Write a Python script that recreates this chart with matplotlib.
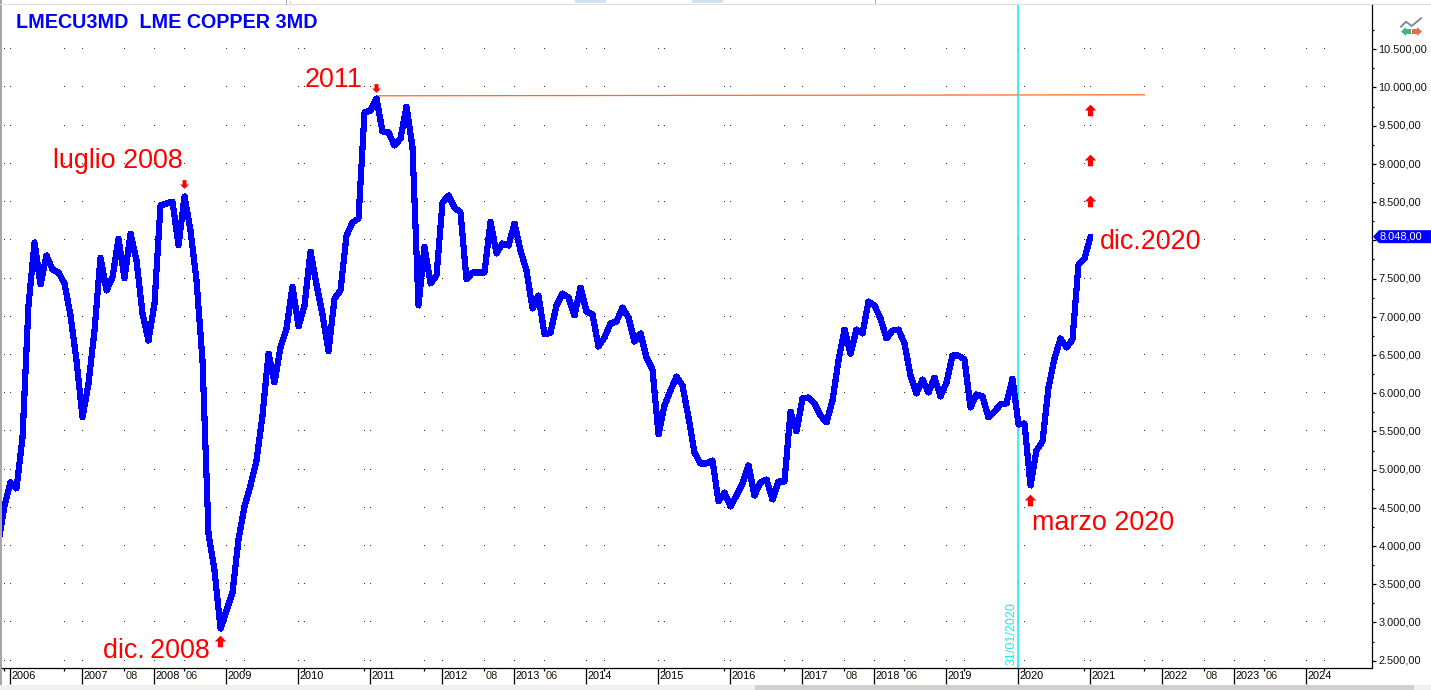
import matplotlib
matplotlib.use("Agg")
import matplotlib.pyplot as plt
from matplotlib.patches import Rectangle, Polygon
from matplotlib.path import Path
from matplotlib.transforms import ScaledTranslation, IdentityTransform

plt.rcParams['font.family'] = ['Liberation Sans', 'DejaVu Sans']

# ---- data: month-end closes (first two points precede the 2006 tick) ----
close_2005 = [4060, 4531]
close_2006 = [4832, 4753, 5420, 7147, 7972, 7422, 7802, 7618, 7579, 7435, 7017, 6428]
close_2007 = [5682, 6127, 6820, 7775, 7344, 7514, 8024, 7501, 8089, 7736, 7043, 6689]
close_2008 = [7174, 8456, 8482, 8508, 7932, 8574, 8129, 7474, 6428, 4164, 3680, 2921]
close_2009 = [3157, 3392, 4086, 4517, 4792, 5119, 5708, 6519, 6140, 6598, 6846, 7396]
close_2010 = [6873, 7147, 7854, 7422, 7030, 6546, 7239, 7344, 8063, 8233, 8286, 9673]
close_2011 = [9699, 9856, 9424, 9411, 9241, 9332, 9751, 9215, 7147, 7919, 7435, 7540]
close_2012 = [8495, 8587, 8430, 8364, 7488, 7579, 7579, 7579, 8246, 7828, 7959, 7932]
close_2013 = [8220, 7867, 7605, 7108, 7278, 6768, 6794, 7147, 7304, 7252, 7017, 7383]
close_2014 = [7069, 7030, 6611, 6729, 6912, 6938, 7121, 6990, 6676, 6781, 6467, 6310]
close_2015 = [5460, 5839, 6035, 6218, 6101, 5682, 5224, 5080, 5080, 5119, 4583, 4701]
close_2016 = [4517, 4661, 4818, 5054, 4661, 4832, 4871, 4609, 4845, 4845, 5760, 5499]
close_2017 = [5931, 5944, 5865, 5708, 5617, 5904, 6428, 6833, 6519, 6833, 6781, 7200]
close_2018 = [7147, 6977, 6716, 6820, 6833, 6650, 6231, 5996, 6179, 6009, 6205, 5957]
close_2019 = [6140, 6493, 6493, 6441, 5813, 5983, 5957, 5682, 5760, 5852, 5865, 6192]
close_2020 = [5590, 5604, 4792, 5250, 5368, 6074, 6454, 6716, 6598, 6703, 7684, 7762, 8048]

year_labels = ['2006', '2007', '2008', '2009', '2010', '2011', '2012', '2013', '2014',
               '2015', '2016', '2017', '2018', '2019', '2020', '2021', '2022', '2023', '2024']
minor_labels = {19: '08', 29: '06', 79: '08', 89: '06', 139: '08', 149: '06', 199: '08', 209: '06'}
price_ticks = [2500, 3000, 3500, 4000, 4500, 5000, 5500, 6000, 6500, 7000, 7500, 8000,
               8500, 9000, 9500, 10000, 10500]

resistance_idx = [61, 189]
resistance_val = [9891, 9904]
cursor_idx = 168
cursor_label = '31/01/2020'

up_idx = [35, 170, 180, 180, 180]
up_val = [2764, 4609, 8521, 9045, 9699]
down_idx = [29, 61]
down_val = [8731, 9987]

notes = [('luglio 2008', 7.1, 8940), ('2011', 49.1, 10000), ('dic.\u20092008', 15.4, 2530),
         ('marzo 2020', 170.2, 4205), ('dic.2020', 181.6, 7893)]

title = 'LMECU3MD  LME COPPER 3MD'

# ---- figure ----
W, H = 1431, 690
fig = plt.figure(figsize=(W / 100, H / 100), dpi=100, facecolor='white')
L, R, T, B = 1.5, 1371.5, 5, 667.5
ax = fig.add_axes([L / W, 1 - B / H, (R - L) / W, (B - T) / H])
ax.set_xlim((L - 10.5) / 6, (R - 10.5) / 6)
ax.set_ylim(2411, 11079)
ax.set_facecolor('white')


def fx(x):
    return x / W


def fy(y):
    return 1 - y / H


def frect(x0, y0, x1, y1, color):
    fig.add_artist(Rectangle((fx(x0), fy(y1)), (x1 - x0) / W, (y1 - y0) / H, transform=fig.transFigure,
                             facecolor=color, edgecolor='none', zorder=0))


def fpoly(points, color):
    fig.add_artist(Polygon([(fx(a), fy(b)) for a, b in points], closed=True, transform=fig.transFigure,
                           facecolor=color, edgecolor='none', zorder=6))


series = (close_2005 + close_2006 + close_2007 + close_2008 + close_2009 + close_2010 + close_2011 +
          close_2012 + close_2013 + close_2014 + close_2015 + close_2016 + close_2017 + close_2018 +
          close_2019 + close_2020)
idx = list(range(-2, len(series) - 2))

major_pos = [12 * i for i in range(len(year_labels))]
minor_pos = [-1 + 10 * i for i in range(23)]

# dotted grid
dot_x = sorted(set(major_pos + minor_pos))
for v in price_ticks:
    ax.plot(dot_x, [v] * len(dot_x), linestyle='none', marker=',', color='#303030', zorder=1)

# horizontal resistance and cursor
ax.plot(resistance_idx, resistance_val, color='#ff6a1e', lw=0.9, zorder=2)
ax.axvline(cursor_idx, color='#00f0f8', lw=1.1, zorder=2)
ax.text(cursor_idx, 2440, cursor_label, rotation=90, color='#22e6ee', fontsize=9.0,
        ha='right', va='bottom', transform=ax.transData + ScaledTranslation(-0.5 / 100, 0, fig.dpi_scale_trans))

# price line
ax.plot(idx, series, color='#0000ff', lw=3.7, solid_joinstyle='round', solid_capstyle='round',
        antialiased=False, zorder=3)

# arrows
arrow = Path([(-0.45, -1), (0.45, -1), (0.45, 0.0), (1, 0.0), (0, 1), (-1, 0.0), (-0.45, 0.0), (-0.45, -1)],
             closed=True)
arrow_down = Path([(x, -y) for x, y in arrow.vertices], closed=True)
ax.scatter(up_idx, up_val, marker=arrow, s=70, color='#ff0000', linewidths=0, zorder=4)
ax.scatter(down_idx, down_val, marker=arrow_down, s=40, color='#ff0000', linewidths=0, zorder=4)

for text, x, y in notes:
    ax.text(x, y, text, color='#ff0000', fontsize=19.4, ha='left', va='baseline', zorder=5)

fig.text(fx(16.5), fy(28), title, color='#0000ff', fontsize=14.2, fontweight='bold', ha='left', va='baseline')

# axes
for s in ('left', 'top'):
    ax.spines[s].set_visible(False)
for s in ('right', 'bottom'):
    ax.spines[s].set_linewidth(0.9)
    ax.spines[s].set_color('black')

# the 8.000,00 label sits behind the last-price tag, so it is left blank
last = series[-1]
ax.yaxis.tick_right()
ax.set_yticks(price_ticks)
ax.set_yticklabels(['' if v == 8000 else f'{v:,.2f}'.replace(',', 'X').replace('.', ',').replace('X', '.')
                    for v in price_ticks])
ax.set_yticks([v + 250 for v in price_ticks[:-1]] + [10750], minor=True)
ax.tick_params(axis='y', which='major', length=2.9, width=0.9, pad=2.2, labelsize=7.9, labelcolor='#101018')
ax.tick_params(axis='y', which='minor', length=1.5, width=0.9)

ax.set_xticks(major_pos)
ax.set_xticklabels(year_labels)
ax.set_xticks(minor_pos, minor=True)
ax.set_xticklabels([minor_labels.get(p, '') for p in minor_pos], minor=True)
ax.tick_params(axis='x', which='major', length=11.5, width=0.9, pad=-9.0, labelsize=7.9)
ax.tick_params(axis='x', which='minor', length=2.2, width=0.9, pad=0.4, labelsize=7.9, labelcolor='#2a1a08')
shift = ScaledTranslation(1.5 / 100, 0, fig.dpi_scale_trans)
for lab in ax.get_xticklabels(minor=False) + ax.get_xticklabels(minor=True):
    lab.set_ha('left')
    lab.set_transform(lab.get_transform() + shift)
ylab_shift = ScaledTranslation(0, 0.7 / 100, fig.dpi_scale_trans)
for lab in ax.get_yticklabels():
    lab.set_transform(lab.get_transform() + ylab_shift)

# last-price tag
tag_y = ax.get_yaxis_transform().transform((1, last))[1]
ax.add_patch(Polygon([(1373, tag_y), (1379, tag_y + 6.5), (W, tag_y + 6.5), (W, tag_y - 6.5), (1379, tag_y - 6.5)],
                     closed=True, transform=IdentityTransform(), facecolor='#0000ff', edgecolor='none',
                     clip_on=False, zorder=6))
ax.annotate('8.048,00', xy=(1, last), xycoords=ax.get_yaxis_transform(), xytext=(8.5, 0),
            textcoords='offset pixels', color='white', fontsize=7.9, ha='left', va='center',
            annotation_clip=False, zorder=7)

# window chrome
frect(0, 0, 1.5, H, '#a6a6a6')
frect(0, 4, W, 5, '#dedede')
frect(575, 0, 606, 3, '#cfe3f5')
frect(692, 0, 723, 3, '#cfe3f5')
frect(286, 0, 287, 5, '#b0b0b0')
frect(290, 1, 291, 4, '#c8c8c8')
frect(875, 0, 876, 4, '#b0b0b0')
frect(0, 685, W, H, '#f0f0f0')
frect(755, 685, 1414, H, '#d0d0d0')

# toolbar icon
fig.add_artist(plt.Line2D([fx(1401), fx(1406), fx(1411.7), fx(1421)], [fy(26.7), fy(21.7), fy(26), fy(18.3)],
                          transform=fig.transFigure, color='#75839f', lw=1.3, zorder=6))
fpoly([(1401, 31.5), (1406, 27), (1406, 29), (1411, 29), (1411, 34), (1406, 34), (1406, 36)], '#3db87a')
fpoly([(1422, 31.5), (1417, 27), (1417, 29), (1412, 29), (1412, 34), (1417, 34), (1417, 36)], '#e9694f')

fig.savefig('out.png', dpi=100)
